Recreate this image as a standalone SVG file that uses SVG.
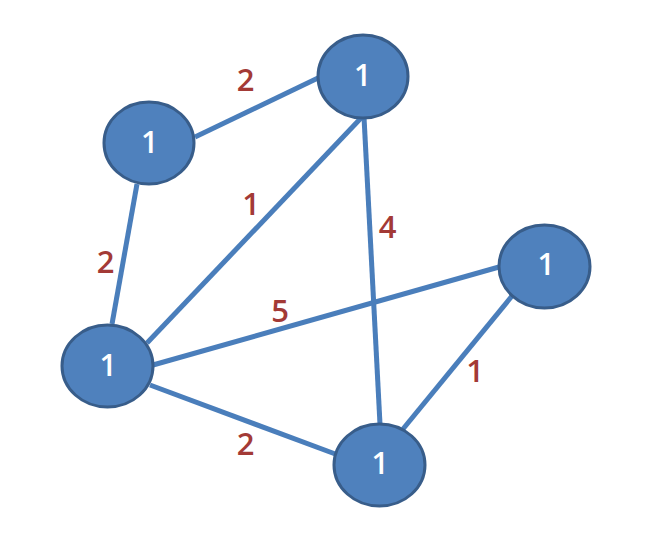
<svg xmlns="http://www.w3.org/2000/svg" width="663" height="545" viewBox="0 0 663 545">
<style>
.edge{stroke:#4a7ebb;stroke-width:5;stroke-linecap:butt;fill:none}
.node ellipse{fill:#4f81bd;stroke:#385d8a;stroke-width:3}
.node text{fill:#ffffff;font-family:"Open Sans","Liberation Sans",sans-serif;font-size:30px;font-weight:600;text-anchor:middle}
.w{fill:#a33a36;font-family:"Open Sans","Liberation Sans",sans-serif;font-size:31px;font-weight:600;text-anchor:middle}
</style>
<rect width="663" height="545" fill="#ffffff"/>
<g id="connectors">
<line class="edge" x1="195" y1="137" x2="318" y2="78"/>
<line class="edge" x1="137" y1="184" x2="112" y2="324"/>
<line class="edge" x1="362" y1="117" x2="147" y2="343"/>
<line class="edge" x1="364" y1="117" x2="380" y2="424"/>
<line class="edge" x1="153" y1="365" x2="499" y2="267"/>
<line class="edge" x1="150" y1="385" x2="338" y2="455"/>
<line class="edge" x1="512" y1="296" x2="403" y2="429"/>
<text class="w" x="245.5" y="91">2</text>
<text class="w" x="251" y="215">1</text>
<text class="w" x="387.5" y="238">4</text>
<text class="w" x="105.5" y="273">2</text>
<text class="w" x="280" y="322">5</text>
<text class="w" x="245.5" y="455">2</text>
<text class="w" x="475" y="382">1</text>
</g>
<g id="nodeA" class="node"><ellipse cx="149" cy="143" rx="45" ry="41"/><text x="149.5" y="153">1</text></g>
<g id="nodeB" class="node"><ellipse cx="363" cy="76.5" rx="45" ry="41.5"/><text x="362.5" y="86">1</text></g>
<g id="nodeC" class="node"><ellipse cx="107.5" cy="366" rx="45.5" ry="41"/><text x="108" y="376">1</text></g>
<g id="nodeD" class="node"><ellipse cx="379.5" cy="465" rx="45.5" ry="41"/><text x="380" y="474">1</text></g>
<g id="nodeE" class="node"><ellipse cx="544.5" cy="266.5" rx="45.5" ry="41.5"/><text x="546" y="275">1</text></g>
</svg>
